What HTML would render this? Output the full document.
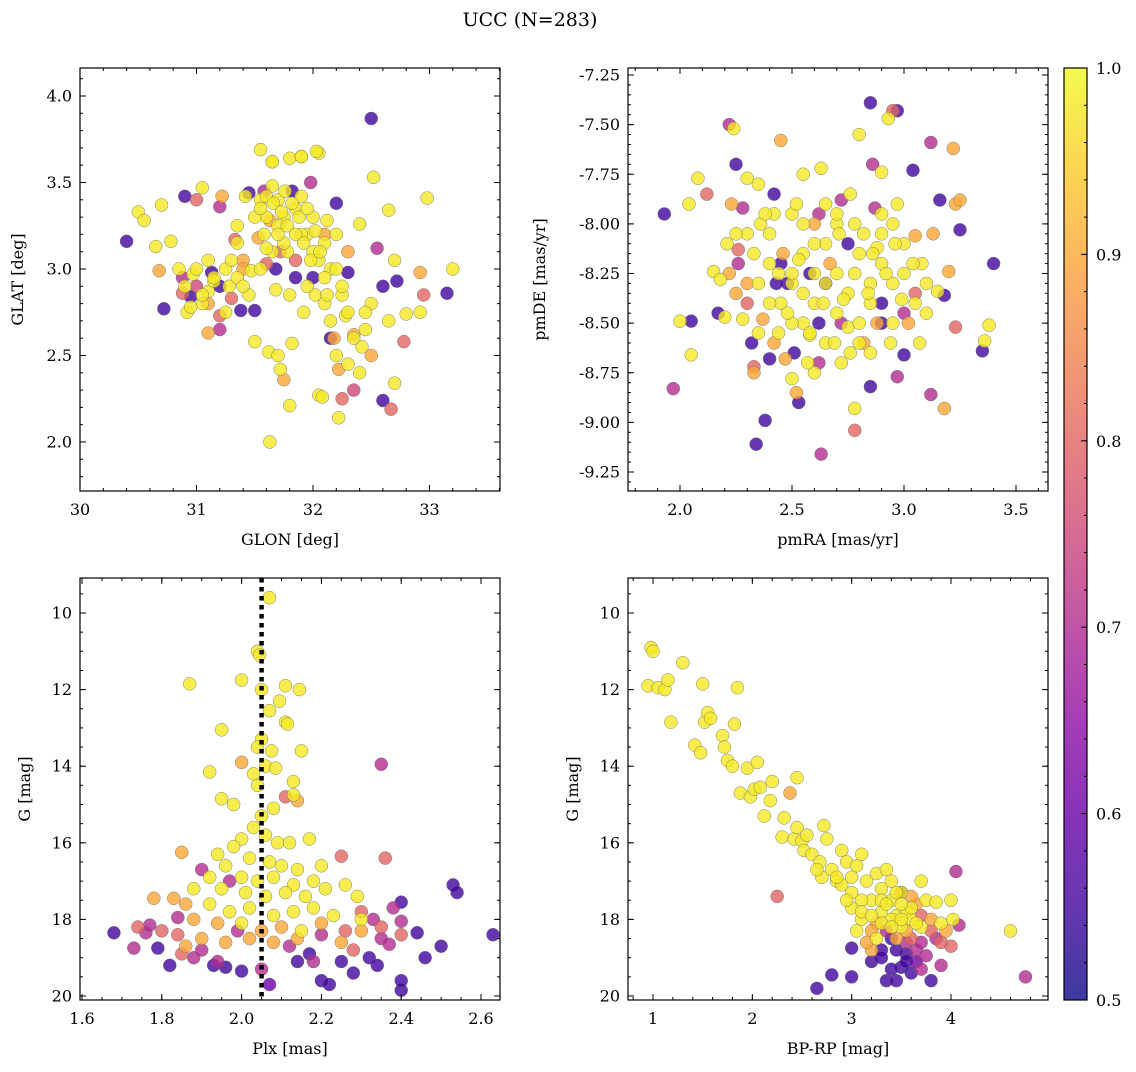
<!DOCTYPE html>
<html><head><meta charset="utf-8"><style>
html,body{margin:0;padding:0;background:#fff;}
svg text{font-family:"DejaVu Serif","Liberation Serif",serif;fill:#000;}
</style></head><body>
<svg id="chart" width="1136" height="1067" viewBox="0 0 1136 1067" xmlns="http://www.w3.org/2000/svg">
<defs>
<linearGradient id="plasma" x1="0" y1="1" x2="0" y2="0">
<stop offset="0" stop-color="#0d0887"/><stop offset="0.1" stop-color="#41049d"/><stop offset="0.2" stop-color="#6a00a8"/><stop offset="0.3" stop-color="#8f0da4"/><stop offset="0.4" stop-color="#b12a90"/><stop offset="0.5" stop-color="#cc4778"/><stop offset="0.6" stop-color="#e16462"/><stop offset="0.7" stop-color="#f2844b"/><stop offset="0.8" stop-color="#fca636"/><stop offset="0.9" stop-color="#fcce25"/><stop offset="1" stop-color="#f0f921"/>
</linearGradient>
</defs>
<text x="530" y="26" font-size="19" font-family="DejaVu Serif, Liberation Serif, serif" text-anchor="middle">UCC (N=283)</text>
</svg>
<script>
// ---- data ----
const glonVals=[30.4,30.5,30.55,30.65,30.68,30.7,30.72,30.78,30.85,30.88,30.9,30.92,30.95,30.97,31.0,31.05,31.05,31.1,31.1,31.13,31.15,31.2,31.2,31.2,31.22,31.28,31.3,31.33,31.35,31.38,31.4,31.42,31.45,31.47,31.5,31.5,31.55,31.55,31.58,31.6,31.62,31.63,31.65,31.65,31.68,31.7,31.72,31.75,31.75,31.78,31.8,31.8,31.82,31.82,31.85,31.9,31.92,31.95,31.98,32.0,32.02,32.05,32.05,32.08,32.1,32.12,32.15,32.15,32.2,32.22,32.22,32.25,32.28,32.3,32.3,32.35,32.4,32.42,32.5,32.52,32.5,32.55,32.6,32.6,32.65,32.65,32.67,32.7,32.7,32.72,32.78,32.8,32.92,32.92,32.95,32.98,33.15,33.2,31.6,31.7,31.75,31.85,31.9,32.0,32.1,32.2,31.65,31.95,32.05,31.85,32.25,32.1,31.5,31.7,31.9,32.0,31.55,31.35,31.45,31.8,32.15,32.2,32.3,32.35,32.4,32.45,31.1,31.0,31.25,31.4,
31.55,31.6,31.63,31.66,31.7,31.73,31.76,31.78,31.82,31.85,31.88,31.92,31.95,31.98,32.02,32.06,32.1,31.6,31.68,31.58,31.72,31.53,31.65,31.9,32.03,30.9,30.95,31.0,31.05,31.1,31.15,31.2,30.88,31.25,31.35,31.4,31.3,32.2,32.25,32.3,32.35,32.45,32.5,32.12,32.18,32.4];
const glatVals=[3.16,3.33,3.28,3.13,2.99,3.37,2.77,3.16,3.0,2.86,3.42,2.75,2.84,2.97,3.4,3.47,2.8,2.87,2.63,2.98,2.93,2.65,2.73,3.36,3.42,2.9,2.83,3.17,3.25,2.76,3.05,3.42,3.44,2.99,2.58,2.76,3.69,3.4,3.2,3.03,2.52,2.0,3.62,3.48,2.88,2.5,2.42,2.36,3.3,3.1,2.21,3.64,2.57,3.45,2.95,3.65,2.75,3.2,3.5,2.95,2.85,3.67,2.27,2.26,2.8,3.28,2.6,3.0,3.38,2.14,2.42,2.25,2.73,2.98,3.1,2.62,3.26,2.55,3.87,3.53,2.8,3.12,2.24,2.9,2.7,3.34,2.19,3.05,2.34,2.93,2.58,2.74,2.98,2.75,2.85,3.41,2.86,3.0,3.3,3.25,3.15,3.35,3.2,3.1,3.15,3.2,3.1,2.9,3.05,3.05,2.85,2.95,3.3,3.4,3.42,3.3,3.0,2.95,2.85,2.85,2.7,2.5,2.45,2.3,2.4,2.75,3.05,2.9,3.0,2.9,
3.35,3.42,3.28,3.38,3.2,3.33,3.45,3.25,3.38,3.2,3.3,3.15,3.35,3.05,3.22,3.1,3.2,3.12,3.0,3.45,3.1,3.18,3.62,3.65,3.68,2.9,2.78,3.0,2.85,2.8,2.95,2.9,2.95,2.75,3.15,3.0,3.05,3.0,2.9,2.75,2.6,2.65,2.5,2.85,2.6,2.5];
const glonProb=[0.55,0.98,0.98,0.98,0.9,0.98,0.55,0.98,0.98,0.8,0.55,0.98,0.55,0.98,0.8,0.98,0.98,0.98,0.9,0.55,0.98,0.7,0.8,0.7,0.9,0.98,0.8,0.8,0.98,0.55,0.9,0.98,0.55,0.98,0.98,0.55,0.98,0.98,0.98,0.8,0.98,0.98,0.98,0.98,0.98,0.98,0.98,0.9,0.98,0.98,0.98,0.98,0.98,0.55,0.55,0.98,0.98,0.98,0.7,0.55,0.98,0.98,0.98,0.98,0.98,0.98,0.55,0.98,0.55,0.98,0.9,0.8,0.98,0.55,0.9,0.9,0.98,0.98,0.55,0.98,0.98,0.7,0.55,0.55,0.98,0.98,0.8,0.98,0.98,0.55,0.8,0.98,0.9,0.98,0.8,0.98,0.55,0.98,0.98,0.98,0.98,0.98,0.98,0.98,0.98,0.98,0.98,0.98,0.98,0.8,0.98,0.98,0.98,0.98,0.98,0.98,0.98,0.98,0.98,0.98,0.98,0.98,0.98,0.75,0.98,0.98,0.98,0.75,0.98,
0.98,0.98,0.98,0.9,0.98,0.98,0.98,0.98,0.98,0.98,0.98,0.98,0.98,0.98,0.98,0.98,0.98,0.9,0.98,0.55,0.7,0.8,0.9,0.98,0.98,0.98,0.98,0.98,0.98,0.98,0.9,0.98,0.55,0.7,0.98,0.98,0.9,0.98,0.98,0.98,0.98,0.98,0.98,0.9,0.98,0.9];

const pmraVals=[1.93,1.97,2.0,2.04,2.05,2.05,2.08,2.12,2.15,2.17,2.18,2.2,2.21,2.22,2.23,2.24,2.25,2.25,2.26,2.26,2.28,2.28,2.3,2.32,2.33,2.33,2.34,2.36,2.38,2.4,2.42,2.44,2.45,2.47,2.5,2.51,2.52,2.53,2.55,2.58,2.6,2.62,2.63,2.63,2.65,2.7,2.72,2.75,2.76,2.78,2.78,2.8,2.82,2.85,2.85,2.86,2.87,2.9,2.93,2.95,2.97,2.97,3.0,3.0,3.04,3.05,3.08,3.12,3.12,3.15,3.16,3.18,3.18,3.2,3.22,3.23,3.23,3.25,3.25,3.35,3.36,3.38,3.4,2.4,2.5,2.55,2.6,2.65,2.7,2.75,2.8,2.85,2.9,2.95,2.45,2.35,2.4,2.5,2.6,2.7,2.8,2.9,2.95,3.0,2.55,2.65,2.45,2.75,2.85,2.5,2.6,2.7,2.78,2.88,3.05,3.1,2.3,2.35,2.42,2.55,2.65,2.95,2.85,2.62,2.9,2.48,3.0,2.72,
2.25,2.3,2.35,2.38,2.4,2.42,2.46,2.5,2.52,2.55,2.57,2.6,2.62,2.64,2.67,2.69,2.71,2.73,2.76,2.78,2.8,2.82,2.84,2.86,2.88,2.9,2.92,2.94,2.96,2.99,3.02,3.04,3.07,3.1,3.13,2.33,2.37,2.44,2.48,2.53,2.58,2.65,2.58,2.43,2.72,2.9,3.05,2.3,2.22,2.97];
const pmdeVals=[-7.95,-8.83,-8.49,-7.9,-8.66,-8.49,-7.77,-7.85,-8.24,-8.45,-8.28,-8.47,-8.1,-7.5,-7.9,-7.52,-8.35,-7.7,-8.13,-8.2,-8.48,-7.92,-7.77,-8.6,-8.72,-8.75,-9.11,-8.0,-8.99,-8.68,-7.85,-8.55,-7.58,-8.68,-8.78,-8.65,-8.85,-8.9,-8.0,-8.56,-8.75,-8.7,-7.72,-9.16,-8.3,-8.0,-7.88,-8.52,-8.65,-9.04,-8.93,-7.55,-8.6,-7.39,-8.82,-7.7,-7.92,-7.74,-7.47,-7.43,-7.43,-8.77,-8.66,-8.45,-7.73,-8.06,-8.2,-7.59,-8.86,-8.34,-7.88,-8.93,-8.36,-8.24,-7.62,-7.9,-8.52,-8.03,-7.88,-8.64,-8.59,-8.51,-8.2,-8.2,-8.3,-8.15,-8.4,-8.1,-8.25,-8.35,-8.15,-8.4,-8.2,-8.3,-8.4,-8.3,-8.05,-7.95,-8.0,-8.45,-8.5,-8.05,-8.0,-8.25,-8.5,-8.6,-8.2,-8.1,-8.3,-8.25,-8.25,-7.95,-8.0,-8.12,-8.4,-8.45,-8.05,-7.8,-7.95,-7.75,-7.9,-8.5,-8.65,-8.5,-8.4,-8.3,-8.1,-8.7,
-8.05,-8.3,-8.55,-7.95,-8.4,-8.6,-8.15,-8.5,-7.9,-8.35,-8.7,-8.1,-7.95,-8.4,-8.2,-8.6,-8.05,-8.38,-7.85,-8.25,-8.6,-8.05,-8.35,-8.15,-8.5,-7.95,-8.25,-8.6,-8.1,-8.38,-8.5,-8.2,-8.6,-8.3,-8.05,-8.15,-8.48,-8.25,-8.45,-8.18,-8.55,-8.3,-8.25,-8.3,-8.5,-8.5,-8.35,-8.4,-8.25,-7.9];
const pmraProb=[0.55,0.7,0.98,0.98,0.98,0.55,0.98,0.8,0.98,0.55,0.98,0.98,0.98,0.7,0.9,0.98,0.9,0.55,0.8,0.7,0.98,0.7,0.98,0.55,0.8,0.9,0.55,0.98,0.55,0.55,0.55,0.98,0.9,0.9,0.98,0.55,0.9,0.55,0.98,0.98,0.98,0.7,0.98,0.7,0.98,0.98,0.7,0.98,0.98,0.8,0.98,0.98,0.9,0.55,0.55,0.7,0.7,0.98,0.98,0.8,0.55,0.7,0.55,0.7,0.55,0.9,0.98,0.7,0.7,0.98,0.55,0.9,0.55,0.9,0.9,0.9,0.8,0.55,0.9,0.55,0.98,0.98,0.55,0.98,0.98,0.98,0.98,0.98,0.98,0.98,0.98,0.98,0.98,0.98,0.98,0.98,0.98,0.98,0.9,0.98,0.98,0.98,0.98,0.98,0.98,0.98,0.55,0.55,0.98,0.98,0.98,0.98,0.98,0.98,0.98,0.98,0.98,0.98,0.98,0.98,0.98,0.98,0.98,0.55,0.55,0.55,0.98,0.98,
0.98,0.9,0.98,0.98,0.98,0.9,0.9,0.98,0.98,0.98,0.98,0.98,0.7,0.98,0.9,0.98,0.98,0.98,0.98,0.98,0.98,0.98,0.98,0.98,0.9,0.98,0.98,0.98,0.98,0.98,0.9,0.98,0.98,0.98,0.9,0.98,0.9,0.98,0.98,0.98,0.98,0.55,0.55,0.55,0.7,0.55,0.8,0.8,0.9,0.98];

const plxVals=[2.07,2.04,2.045,2.0,1.87,2.11,2.145,2.05,2.095,2.07,2.11,2.115,1.95,2.05,2.04,2.075,2.15,2.0,2.35,2.06,2.085,1.92,2.03,2.04,2.13,2.13,2.11,1.95,2.14,1.98,2.08,2.05,
2.03,2.06,2.0,2.09,1.98,2.12,2.17,1.94,2.02,2.07,1.85,2.25,1.96,2.1,2.14,2.2,1.92,2.0,2.04,2.08,2.13,2.18,1.88,1.95,2.01,2.06,2.11,2.16,2.21,2.26,2.29,1.9,1.97,1.83,
1.78,1.86,1.92,1.97,2.02,2.08,2.13,2.18,2.23,1.88,1.94,2.0,2.05,2.1,2.15,2.2,2.26,2.3,1.84,1.9,1.96,2.02,2.08,2.14,2.2,2.28,1.8,1.74,1.99,
1.68,1.73,1.76,1.77,1.79,1.82,1.84,1.86,1.88,1.93,1.96,2.0,1.9,1.94,2.05,2.07,2.14,2.18,2.2,2.22,2.25,2.28,2.32,2.34,2.35,2.37,2.4,2.4,2.4,2.4,2.44,2.46,2.5,2.53,2.54,2.63,2.33,2.38,2.3,2.35,2.36,2.3,2.25,2.12,2.17,1.85,2.4];
const gPlxVals=[9.6,11.0,11.1,11.75,11.85,11.9,12.0,12.0,12.3,12.55,12.85,12.9,13.05,13.3,13.5,13.6,13.6,13.9,13.95,14.0,14.05,14.15,14.2,14.5,14.4,14.75,14.8,14.85,14.9,15.0,15.1,15.3,
15.6,15.8,15.9,16.0,16.1,16.0,15.9,16.3,16.4,16.5,16.25,16.35,16.6,16.6,16.7,16.6,16.9,16.9,17.0,16.9,17.1,17.0,17.2,17.2,17.3,17.4,17.3,17.4,17.2,17.1,17.4,16.7,17.0,17.45,
17.45,17.6,17.6,17.8,17.7,17.9,17.8,17.7,17.9,18.0,18.1,18.1,18.3,18.2,18.3,18.1,18.3,18.0,18.4,18.5,18.6,18.5,18.6,18.5,18.4,18.8,18.3,18.2,18.3,
18.35,18.75,18.35,18.15,18.75,19.2,17.95,18.7,19.0,19.2,19.25,19.35,18.8,19.1,19.3,19.7,19.1,19.1,19.6,19.7,19.1,19.4,19.0,19.2,18.5,18.65,17.55,18.05,19.85,19.6,18.35,19.0,18.7,17.1,17.3,18.4,18.0,17.7,17.8,18.2,16.4,18.3,18.6,18.7,18.9,18.9,18.4];
const plxProb=[0.98,0.98,0.98,0.98,0.98,0.98,0.98,0.98,0.98,0.98,0.98,0.98,0.98,0.98,0.98,0.98,0.98,0.9,0.7,0.98,0.98,0.98,0.98,0.98,0.98,0.98,0.8,0.98,0.9,0.98,0.98,0.98,
0.98,0.98,0.98,0.98,0.98,0.98,0.98,0.98,0.98,0.98,0.9,0.8,0.98,0.98,0.98,0.98,0.98,0.98,0.98,0.98,0.98,0.98,0.98,0.98,0.98,0.98,0.98,0.98,0.98,0.98,0.98,0.7,0.7,0.9,
0.9,0.9,0.98,0.98,0.98,0.98,0.98,0.98,0.98,0.9,0.9,0.98,0.9,0.9,0.98,0.9,0.8,0.98,0.8,0.9,0.9,0.9,0.9,0.9,0.7,0.8,0.8,0.8,0.7,
0.55,0.7,0.7,0.7,0.55,0.55,0.7,0.9,0.7,0.55,0.55,0.55,0.7,0.7,0.7,0.6,0.55,0.7,0.55,0.55,0.55,0.55,0.55,0.55,0.7,0.7,0.55,0.7,0.55,0.55,0.55,0.55,0.55,0.55,0.55,0.55,0.7,0.7,0.8,0.8,0.8,0.9,0.9,0.7,0.55,0.8,0.8];

const bprpVals=[0.95,0.98,1.0,1.05,1.12,1.15,1.18,1.3,1.42,1.48,1.5,1.52,1.55,1.58,1.7,1.72,1.75,1.8,1.82,1.85,1.88,1.95,1.98,2.02,2.05,2.08,2.12,2.18,2.2,2.3,2.32,2.38,2.45,2.42,2.45,2.5,2.52,2.55,2.6,2.68,2.72,2.75,2.8,2.85,2.9,2.95,3.0,3.05,3.1,3.15,3.2,3.25,3.3,3.35,3.4,3.45,3.5,3.55,3.6,3.65,3.7,3.75,3.8,3.85,3.9,3.95,4.02,4.05,4.08,4.6,4.75,2.25,2.65,2.8,3.0,3.0,3.2,3.35,3.45,3.5,3.55,3.6,3.3,3.4,3.5,3.7,3.8,3.9,3.65,3.75,3.55,3.85,4.0,3.45,3.35,3.25,3.1,3.2,3.0,3.1,3.3,3.4,3.5,3.6,3.45,3.3,2.9,3.0,2.7,2.65,3.6,3.7,3.8,3.9,3.2,3.05,3.4,3.7,4.0,
3.1,3.2,3.3,3.4,3.5,3.55,3.45,3.25,3.15,3.6,3.7,3.35,3.5,3.65,3.3,3.55,3.4,3.65,2.95,2.85];
const gBprpVals=[11.9,10.9,11.0,11.95,12.0,11.75,12.85,11.3,13.45,13.65,11.85,12.85,12.6,12.75,13.2,13.5,13.85,14.0,12.9,11.95,14.7,14.05,14.8,14.6,13.9,14.55,15.3,14.9,14.4,15.85,15.35,14.7,14.3,15.9,15.6,15.95,16.2,15.8,16.3,16.5,15.55,15.9,16.7,17.0,16.2,16.5,17.3,16.6,16.3,17.0,17.5,16.8,17.2,16.7,17.5,17.9,17.3,17.8,18.0,17.6,18.2,17.5,18.0,17.55,18.1,18.3,18.0,16.75,18.15,18.3,19.5,17.4,19.8,19.45,19.5,18.75,19.1,19.6,19.6,19.25,18.9,19.4,18.8,18.5,17.3,19.3,19.6,19.2,18.8,18.95,18.6,18.5,18.7,18.8,18.3,18.1,18.0,18.3,17.7,17.5,17.8,18.0,18.2,17.7,17.3,17.5,17.1,16.9,16.9,16.7,17.4,17.9,18.3,18.6,18.8,18.3,17.0,17.0,17.5,
17.8,17.9,18.1,18.2,18.0,18.3,18.5,18.5,18.6,18.5,18.6,17.6,17.6,18.1,19.0,19.1,19.3,19.1,17.5,16.9];
const bprpProb=[0.98,0.98,0.98,0.98,0.98,0.98,0.98,0.98,0.98,0.98,0.98,0.98,0.98,0.98,0.98,0.98,0.98,0.98,0.98,0.98,0.98,0.98,0.98,0.98,0.98,0.98,0.98,0.98,0.98,0.98,0.98,0.9,0.98,0.98,0.98,0.98,0.98,0.98,0.98,0.98,0.98,0.98,0.98,0.98,0.98,0.98,0.98,0.98,0.98,0.98,0.98,0.98,0.98,0.98,0.98,0.98,0.98,0.98,0.98,0.9,0.98,0.98,0.9,0.98,0.98,0.9,0.98,0.7,0.7,0.98,0.7,0.8,0.55,0.55,0.55,0.55,0.55,0.55,0.55,0.55,0.55,0.55,0.55,0.55,0.55,0.7,0.55,0.7,0.7,0.7,0.7,0.7,0.8,0.55,0.7,0.9,0.98,0.9,0.98,0.98,0.98,0.98,0.98,0.98,0.98,0.98,0.98,0.98,0.98,0.98,0.9,0.8,0.8,0.8,0.9,0.98,0.98,0.98,0.98,
0.98,0.98,0.98,0.98,0.98,0.9,0.9,0.98,0.9,0.8,0.7,0.98,0.98,0.98,0.55,0.55,0.55,0.6,0.98,0.98];

const plxRef=[2.05];
const glonTicks=[30,31,32,33], glatTicks=[2.0,2.5,3.0,3.5,4.0];
const pmraTicks=[2.0,2.5,3.0,3.5], pmdeTicks=[-9.25,-9.00,-8.75,-8.50,-8.25,-8.00,-7.75,-7.50,-7.25];
const plxTicks=[1.6,1.8,2.0,2.2,2.4,2.6], gTicks=[10,12,14,16,18,20];
const bprpTicks=[1,2,3,4], cbTicks=[0.5,0.6,0.7,0.8,0.9,1.0];

// ---- rendering ----
const NS='http://www.w3.org/2000/svg';
const FONT='DejaVu Serif, Liberation Serif, serif';
const svg=document.getElementById('chart');
function mk(tag,attrs,parent){const e=document.createElementNS(NS,tag);for(const k in attrs)e.setAttribute(k,attrs[k]);(parent||svg).appendChild(e);return e;}
const stops=[[0,[13,8,135]],[0.1,[65,4,157]],[0.2,[106,0,168]],[0.3,[143,13,164]],[0.4,[177,42,144]],[0.5,[204,71,120]],[0.6,[225,100,98]],[0.7,[242,132,75]],[0.8,[252,166,54]],[0.9,[252,206,37]],[1,[240,249,33]]];
function plasma(v){let t=Math.max(0,Math.min(1,(v-0.5)/0.5));for(let i=1;i<stops.length;i++){if(t<=stops[i][0]){const a=stops[i-1],b=stops[i],f=(t-a[0])/(b[0]-a[0]);const c=a[1].map((x,j)=>Math.round(x+(b[1][j]-x)*f));return `rgb(${c[0]},${c[1]},${c[2]})`;}}return 'rgb(240,249,33)';}
function fmt(v,d){return v.toFixed(d);}

function panel(cfg){
  const g=mk('g',{});
  
  
  const {x0,x1,y0,y1}=cfg.box;
  const sx=v=>x0+(v-cfg.xr[0])/(cfg.xr[1]-cfg.xr[0])*(x1-x0);
  const sy=v=>cfg.yinv? y0+(v-cfg.yr[0])/(cfg.yr[1]-cfg.yr[0])*(y1-y0) : y1-(v-cfg.yr[0])/(cfg.yr[1]-cfg.yr[0])*(y1-y0);
  const pg=mk('g',{},g);
  
  
  const order=cfg.p.map((p,i)=>i).sort((a,b)=>cfg.p[a]-cfg.p[b]);
  order.forEach(i=>{
    const c=mk('circle',{cx:sx(cfg.xs[i]),cy:sy(cfg.ys[i]),r:6.5,fill:plasma(cfg.p[i]),'fill-opacity':0.8,stroke:'#666','stroke-width':0.4},pg);
    
    
  });
  if(cfg.vline){cfg.vline.forEach(v=>{
    const l=mk('line',{x1:sx(v),x2:sx(v),y1:y0,y2:y1,stroke:'#000','stroke-width':4.5,'stroke-dasharray':'4.5,4.5'},g);
    
    
  });}
  const fr=mk('rect',{x:x0,y:y0,width:x1-x0,height:y1-y0,fill:'none',stroke:'#000','stroke-width':1.2},g);
  
  
  const tg=mk('g',{stroke:'#000','stroke-width':1},g);
  const xstep=cfg.xt[1]-cfg.xt[0], ystep=cfg.yt[1]-cfg.yt[0];
  for(let v=cfg.xt[0]-xstep*2;v<=cfg.xr[1]+1e-9;v+=xstep/cfg.xminor){const x=sx(v);if(x<x0-0.1||x>x1+0.1)continue;mk('line',{x1:x,x2:x,y1:y1,y2:y1-3},tg);mk('line',{x1:x,x2:x,y1:y0,y2:y0+3},tg);}
  const ylo=Math.min(cfg.yr[0],cfg.yr[1]),yhi=Math.max(cfg.yr[0],cfg.yr[1]);
  for(let v=cfg.yt[0]-ystep*2;v<=yhi+1e-9;v+=ystep/cfg.yminor){if(v<ylo-1e-9)continue;const y=sy(v);mk('line',{x1:x0,x2:x0+3,y1:y,y2:y},tg);mk('line',{x1:x1,x2:x1-3,y1:y,y2:y},tg);}
  cfg.xt.forEach(v=>{const x=sx(v);mk('line',{x1:x,x2:x,y1:y1,y2:y1-6},tg);mk('line',{x1:x,x2:x,y1:y0,y2:y0+6},tg);
    const t=mk('text',{x:x,y:y1+24,'font-size':16,'font-family':FONT,'text-anchor':'middle'},g);t.textContent=fmt(v,cfg.xd);
    });
  cfg.yt.forEach(v=>{const y=sy(v);mk('line',{x1:x0,x2:x0+6,y1:y,y2:y},tg);mk('line',{x1:x1,x2:x1-6,y1:y,y2:y},tg);
    const t=mk('text',{x:x0-8,y:y+5.5,'font-size':16,'font-family':FONT,'text-anchor':'end'},g);t.textContent=fmt(v,cfg.yd);
    });
  const xl=mk('text',{x:(x0+x1)/2,y:y1+54,'font-size':16,'font-family':FONT,'text-anchor':'middle'},g);xl.textContent=cfg.xlabel;
  
  const yl=mk('text',{x:0,y:0,'font-size':16,'font-family':FONT,'text-anchor':'middle',transform:`translate(${cfg.ylx},${(y0+y1)/2}) rotate(-90)`},g);yl.textContent=cfg.ylabel;
  
}

panel({name:'glon-glat-panel',box:{x0:80,x1:500,y0:68,y1:491},xr:[30,30+420/116.5],yr:[2.0-49/173,4.0+28/173],xs:glonVals,ys:glatVals,p:glonProb,xt:glonTicks,yt:glatTicks,xd:0,yd:1,xminor:5,yminor:5,xlabel:'GLON [deg]',ylabel:'GLAT [deg]',ylx:23});
panel({name:'proper-motion-panel',box:{x0:628,x1:1048,y0:68,y1:491},xr:[2.0-52/224,3.5+32/224],yr:[-9.25-19/198.5,-7.25+7/198.5],xs:pmraVals,ys:pmdeVals,p:pmraProb,xt:pmraTicks,yt:pmdeTicks,xd:1,yd:2,xminor:5,yminor:5,xlabel:'pmRA [mas/yr]',ylabel:'pmDE [mas/yr]',ylx:545});
panel({name:'parallax-magnitude-panel',box:{x0:80,x1:500,y0:578,y1:1000},xr:[1.6-2/399.5,2.6+19/399.5],yr:[10-35/38.3,20+4/38.3],yinv:true,xs:plxVals,ys:gPlxVals,p:plxProb,xt:plxTicks,yt:gTicks,xd:1,yd:0,xminor:4,yminor:4,xlabel:'Plx [mas]',ylabel:'G [mag]',ylx:30,vline:plxRef});
panel({name:'color-magnitude-panel',box:{x0:628,x1:1048,y0:578,y1:1000},xr:[1-25/99.3,4+97/99.3],yr:[10-35/38.3,20+4/38.3],yinv:true,xs:bprpVals,ys:gBprpVals,p:bprpProb,xt:bprpTicks,yt:gTicks,xd:0,yd:0,xminor:5,yminor:4,xlabel:'BP-RP [mag]',ylabel:'G [mag]',ylx:578});

(function(){
  const g=mk('g',{});
  
  
  const x0=1064,x1=1087,y0=68,y1=1000;
  const cy=v=>y1-(v-0.5)/0.5*(y1-y0);
  mk('rect',{x:x0,y:y0,width:x1-x0,height:y1-y0,fill:'url(#plasma)','fill-opacity':0.8},g);
  mk('rect',{x:x0,y:y0,width:x1-x0,height:y1-y0,fill:'none',stroke:'#000','stroke-width':1.2},g);
  for(let v=0.5;v<=1.0001;v+=0.02){mk('line',{x1:x1,x2:x1-3,y1:cy(v),y2:cy(v),stroke:'#000','stroke-width':1},g);}
  cbTicks.forEach(v=>{mk('line',{x1:x1,x2:x1-6,y1:cy(v),y2:cy(v),stroke:'#000','stroke-width':1},g);
    const t=mk('text',{x:x1+9,y:cy(v)+6,'font-size':16,'font-family':FONT},g);t.textContent=v.toFixed(1);
    });
})();
</script>
</body></html>
